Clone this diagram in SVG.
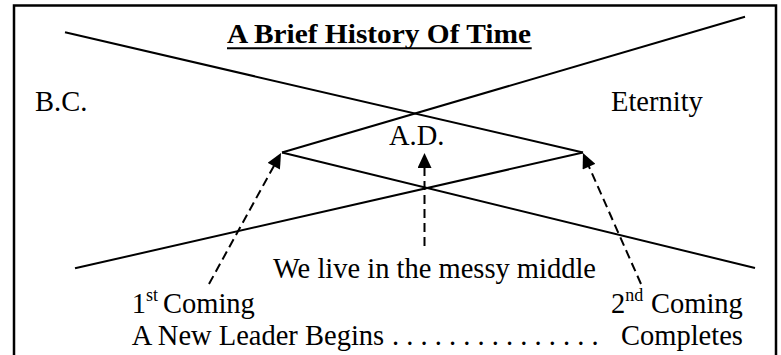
<svg xmlns="http://www.w3.org/2000/svg" width="781" height="355" viewBox="0 0 781 355">
<style>
text{font-family:'Liberation Serif','Times New Roman',serif;font-size:28.5px;fill:#000}
.sup{font-size:18px}
.sl{stroke:#000;stroke-width:2;fill:none;stroke-linecap:butt}
.da{stroke:#000;stroke-width:2;fill:none;stroke-dasharray:9 5}
</style>
<defs>
<marker id="ah" markerUnits="userSpaceOnUse" markerWidth="16" markerHeight="14" refX="5" refY="7" orient="auto" viewBox="0 0 15 14">
<path d="M0,0 L15,7 L0,14 z" fill="#000" stroke="none"/>
</marker>
</defs>
<rect width="781" height="355" fill="#fff"/>
<path id="frame" d="M14,360 V5.5 H776 V360" fill="none" stroke="#000" stroke-width="2.5"/>
<g id="connectors">
<line class="sl" x1="65" y1="32.3" x2="583" y2="152.5"/>
<line class="sl" x1="282" y1="152.5" x2="745" y2="16.7"/>
<line class="sl" x1="282" y1="152.5" x2="755" y2="268"/>
<line class="sl" x1="75" y1="268.3" x2="583" y2="152.5"/>
<line class="da" x1="209" y1="284" x2="276.2" y2="161.8" marker-end="url(#ah)"/>
<line class="da" x1="424.5" y1="246" x2="424.5" y2="163" marker-end="url(#ah)"/>
<line class="da" x1="641" y1="284" x2="587" y2="162.1" marker-end="url(#ah)"/>
</g>
<g id="title">
<text x="227" y="43.3" style="font-weight:bold;font-size:28px" textLength="304" lengthAdjust="spacingAndGlyphs">A Brief History Of Time</text>
<line x1="227" y1="48.3" x2="531.7" y2="48.3" stroke="#000" stroke-width="2"/>
</g>
<g id="bc"><text x="35" y="110.7">B.C.</text></g>
<g id="eternity"><text x="611" y="110.5">Eternity</text></g>
<g id="ad"><text x="389" y="145">A.D.</text></g>
<g id="middle"><text x="273" y="278">We live in the messy middle</text></g>
<g id="first"><text x="131.7" y="313.3">1<tspan class="sup" dy="-12">st</tspan><tspan x="163" dy="12">Coming</tspan></text></g>
<g id="second"><text x="611" y="313.3">2<tspan class="sup" dy="-12">nd</tspan><tspan x="651" dy="12">Coming</tspan></text></g>
<g id="bottom"><text x="131.7" y="345">A New Leader Begins<tspan x="392">. . . . . . . . . . . . . . .</tspan><tspan x="621">Completes</tspan></text></g>
</svg>
